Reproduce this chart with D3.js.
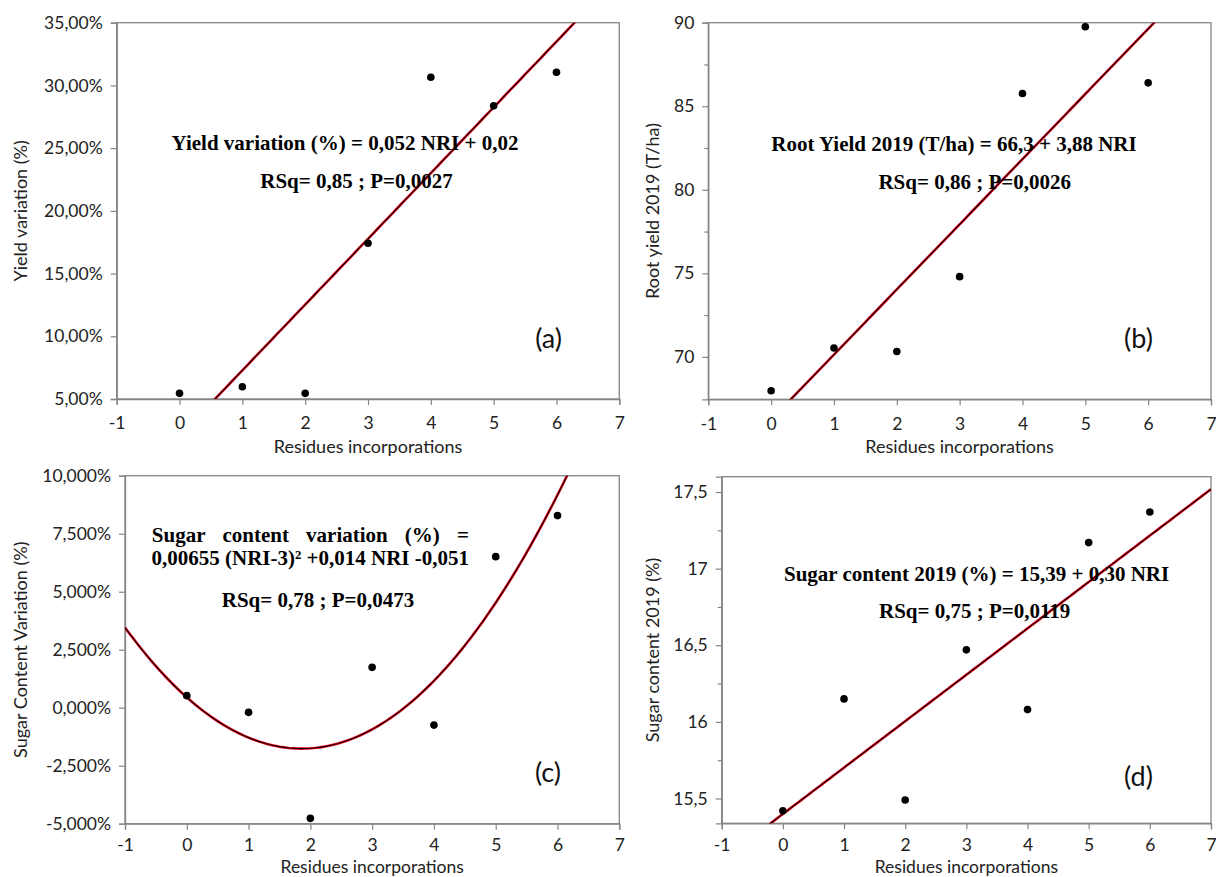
<!DOCTYPE html>
<html>
<head>
<meta charset="utf-8">
<script src="https://cdn.jsdelivr.net/npm/d3@7/dist/d3.min.js"></script>
<style>
body { margin: 0; background: #fff; }
svg { display: block; }
</style>
</head>
<body>
<script>
/* Data */

var nri = [0, 1, 2, 3, 4, 5, 6];
var xTicks = [-1, 0, 1, 2, 3, 4, 5, 6, 7];

var yieldVariation = [0.0545, 0.0598, 0.0545, 0.1742, 0.3065, 0.2837, 0.3105];
var rootYield = [67.97, 70.53, 70.32, 74.80, 85.76, 89.76, 86.40];
var sugarVariation = [0.0052, -0.0020, -0.0477, 0.0174, -0.0075, 0.0651, 0.0828];
var sugarContent = [15.42, 16.15, 15.49, 16.47, 16.08, 17.17, 17.37];

var yieldTicks = [0.05, 0.10, 0.15, 0.20, 0.25, 0.30, 0.35];
var rootTicks = [70, 75, 80, 85, 90];
var rootMinor = [72.5, 77.5, 82.5, 87.5];
var sugarVarTicks = [-0.05, -0.025, 0, 0.025, 0.05, 0.075, 0.10];
var sugarTicks = [15.5, 16, 16.5, 17, 17.5];
var sugarMinor = [15.75, 16.25, 16.75, 17.25];

var yTitles = ["Yield variation (%)", "Root yield 2019 (T/ha)", "Sugar Content Variation (%)", "Sugar content 2019 (%)"];
var xTitle = "Residues incorporations";
var panelTags = ["(a)", "(b)", "(c)", "(d)"];

var eqA = ["Yield variation (%) = 0,052 NRI + 0,02", "RSq= 0,85 ; P=0,0027"];
var eqB = ["Root Yield 2019 (T/ha) = 66,3 + 3,88 NRI", "RSq= 0,86 ; P=0,0026"];
var eqC = ["Sugar content variation (%) =", "0,00655 (NRI-3)² +0,014 NRI -0,051", "RSq= 0,78 ; P=0,0473"];
var eqD = ["Sugar content 2019 (%) = 15,39 + 0,30 NRI", "RSq= 0,75 ; P=0,0119"];



/* Helpers */

var locale = d3.formatLocale({decimal: ",", thousands: ".", grouping: [3], currency: ["", ""], minus: "-"});

// least squares polynomial, coef[i] goes with x^i
function polyFit(xs, ys, degree) {
	var n = degree + 1;
	var m = [];
	for (let i = 0; i < n; i++) {
		m.push(new Array(n + 1).fill(0));
	}
	xs.forEach(function(x, k) {
		for (let i = 0; i < n; i++) {
			for (let j = 0; j < n; j++) { m[i][j] += Math.pow(x, i + j); }
			m[i][n] += Math.pow(x, i) * ys[k];
		}
	});
	for (let i = 0; i < n; i++) {
		for (let r = i + 1; r < n; r++) {
			let f = m[r][i] / m[i][i];
			for (let c = i; c <= n; c++) { m[r][c] -= f * m[i][c]; }
		}
	}
	var coef = new Array(n).fill(0);
	for (let i = n - 1; i >= 0; i--) {
		let s = m[i][n];
		for (let j = i + 1; j < n; j++) { s -= m[i][j] * coef[j]; }
		coef[i] = s / m[i][i];
	}
	return coef;
}

function polyVal(coef, x) {
	var s = 0;
	for (let i = 0; i < coef.length; i++) { s += coef[i] * Math.pow(x, i); }
	return s;
}



/* Panels */

var width = 1216;
var height = 877;

var svg = d3.select("body").append("svg")
	.attr("width", width)
	.attr("height", height);

var panels = [
	{id: "a", values: yieldVariation, degree: 1,
		box: [116.7, 619.3, 22.7, 399], yDomain: [0.05, 0.35],
		ticks: yieldTicks, minor: [], fmt: locale.format(".2%"),
		xPad: 12, titleSize: 18, yTitleX: 21, xTitleDy: 54,
		tag: panelTags[0], tagPos: [548.6, 340], title: yTitles[0],
		eq: eqA, eqPos: [[345, 150], [356.5, 188]]},
	{id: "b", values: rootYield, degree: 1,
		box: [708.3, 1211, 22.7, 399.3], yDomain: [67.46, 90],
		ticks: rootTicks, minor: rootMinor, fmt: locale.format("d"),
		xPad: 12, titleSize: 18, yTitleX: 652.7, xTitleDy: 54,
		tag: panelTags[1], tagPos: [1138.5, 340], title: yTitles[1],
		eq: eqB, eqPos: [[954, 150.5], [974.7, 189]]},
	{id: "c", values: sugarVariation, degree: 2,
		box: [125, 619.3, 475.7, 823.7], yDomain: [-0.05, 0.10],
		ticks: sugarVarTicks, minor: [], fmt: locale.format(".3%"),
		xPad: 9, titleSize: 17.5, yTitleX: 21, xTitleDy: 49.5,
		tag: panelTags[2], tagPos: [548, 774], title: yTitles[2],
		eq: eqC, eqPos: [[151.8, 541.5], [310.3, 565], [318, 607]], justify: [151.8, 468.9]},
	{id: "d", values: sugarContent, degree: 1,
		box: [721.7, 1211, 476.7, 823.3], yDomain: [15.338, 17.6],
		ticks: sugarTicks, minor: sugarMinor, fmt: locale.format(".1~f"),
		xPad: 9, titleSize: 17.5, yTitleX: 652.7, xTitleDy: 49.5,
		tag: panelTags[3], tagPos: [1138.5, 778], title: yTitles[3],
		eq: eqD, eqPos: [[976.6, 580.5], [974.7, 618]]}
];

var axisColor = "#858585";
var sansFont = "Lato, 'Open Sans', sans-serif";
var serifFont = "'Liberation Serif', 'Times New Roman', serif";
var eqSize = "21px";


function styleAxis(g) {
	g.select(".domain").attr("stroke", axisColor).attr("stroke-width", 1.3);
	g.selectAll(".tick line").attr("stroke", axisColor).attr("stroke-width", 1.2);
	g.selectAll(".tick text")
		.attr("fill", "#222")
		.style("font-family", sansFont)
		.style("font-size", "17.5px");
}


function drawPanel(p) {
	var left = p.box[0], right = p.box[1], top = p.box[2], bottom = p.box[3];

	var x = d3.scaleLinear().domain([-1, 7]).range([left, right]);
	var y = d3.scaleLinear().domain(p.yDomain).range([bottom, top]);

	var g = svg.append("g").attr("id", "panel_" + p.id);

	// frame
	g.append("rect")
		.attr("x", left).attr("y", top)
		.attr("width", right - left).attr("height", bottom - top)
		.attr("fill", "none")
		.attr("stroke", axisColor)
		.attr("stroke-width", 1.3);

	g.append("g")
		.attr("transform", "translate(0," + bottom + ")")
		.call(d3.axisBottom(x).tickValues(xTicks).tickFormat(locale.format("d"))
			.tickSizeOuter(0).tickSize(6).tickPadding(p.xPad))
		.call(styleAxis);

	g.append("g")
		.attr("transform", "translate(" + left + ",0)")
		.call(d3.axisLeft(y).tickValues(p.ticks).tickFormat(p.fmt)
			.tickSizeOuter(0).tickSize(6).tickPadding(8))
		.call(styleAxis);

	if (p.minor.length) {
		g.append("g")
			.attr("transform", "translate(" + left + ",0)")
			.call(d3.axisLeft(y).tickValues(p.minor).tickFormat("").tickSizeOuter(0).tickSize(4))
			.call(styleAxis)
			.select(".domain").remove();
	}

	// titles
	g.append("text")
		.attr("transform", "translate(" + p.yTitleX + "," + ((top + bottom) / 2) + ") rotate(-90)")
		.attr("text-anchor", "middle")
		.attr("dy", "0.35em")
		.attr("fill", "#222")
		.style("font-family", sansFont)
		.style("font-size", "18px")
		.text(p.title);

	g.append("text")
		.attr("x", (left + right) / 2)
		.attr("y", bottom + p.xTitleDy)
		.attr("text-anchor", "middle")
		.attr("fill", "#222")
		.style("font-family", sansFont)
		.style("font-size", p.titleSize + "px")
		.text(xTitle);

	// fitted curve
	var coef = polyFit(nri, p.values, p.degree);
	var fitPts = d3.range(-1, 7.001, 0.05).map(function(d) { return [d, polyVal(coef, d)]; });
	var line = d3.line()
		.x(function(d) { return x(d[0]); })
		.y(function(d) { return y(d[1]); });

	svg.append("clipPath").attr("id", "clip_" + p.id)
		.append("rect")
			.attr("x", left).attr("y", top)
			.attr("width", right - left).attr("height", bottom - top);

	var fit = g.append("g").attr("clip-path", "url(#clip_" + p.id + ")");
	fit.append("path")
		.datum(fitPts)
		.attr("d", line)
		.attr("fill", "none")
		.attr("stroke", "#e3001b")
		.attr("stroke-width", 2.6);
	fit.append("path")
		.datum(fitPts)
		.attr("d", line)
		.attr("fill", "none")
		.attr("stroke", "#1a0000")
		.attr("stroke-width", 1.1);

	// points
	g.append("g")
		.selectAll("circle")
		.data(nri)
		.enter().append("circle")
			.attr("cx", function(d) { return x(d); })
			.attr("cy", function(d, i) { return y(p.values[i]); })
			.attr("r", 3.8)
			.attr("fill", "#000");

	// equation text
	p.eq.forEach(function(t, i) {
		if (p.justify && i == 0) {
			justifyLine(g, t, p.justify[0], p.justify[1], p.eqPos[i][1]);
			return;
		}
		g.append("text")
			.attr("x", p.eqPos[i][0])
			.attr("y", p.eqPos[i][1])
			.attr("text-anchor", "middle")
			.attr("fill", "#000")
			.style("font-family", serifFont)
			.style("font-weight", "bold")
			.style("font-size", eqSize)
			.text(t);
	});

	g.append("text")
		.attr("x", p.tagPos[0])
		.attr("y", p.tagPos[1])
		.attr("dy", "0.3em")
		.attr("text-anchor", "middle")
		.attr("fill", "#111")
		.style("font-family", sansFont)
		.style("font-size", "27px")
		.text(p.tag);
}


// spreads the words of a line between x0 and x1
function justifyLine(g, str, x0, x1, yPos) {
	var words = str.split(" ");
	var nodes = words.map(function(w) {
		return g.append("text")
			.attr("y", yPos)
			.attr("fill", "#000")
			.style("font-family", serifFont)
			.style("font-weight", "bold")
			.style("font-size", eqSize)
			.text(w);
	});
	var widths = nodes.map(function(n) { return n.node().getComputedTextLength(); });
	var gap = (x1 - x0 - d3.sum(widths)) / (words.length - 1);
	var cur = x0;
	nodes.forEach(function(n, i) {
		n.attr("x", cur);
		cur += widths[i] + gap;
	});
}


for (let p of panels) {
	drawPanel(p);
}
</script>
</body>
</html>
